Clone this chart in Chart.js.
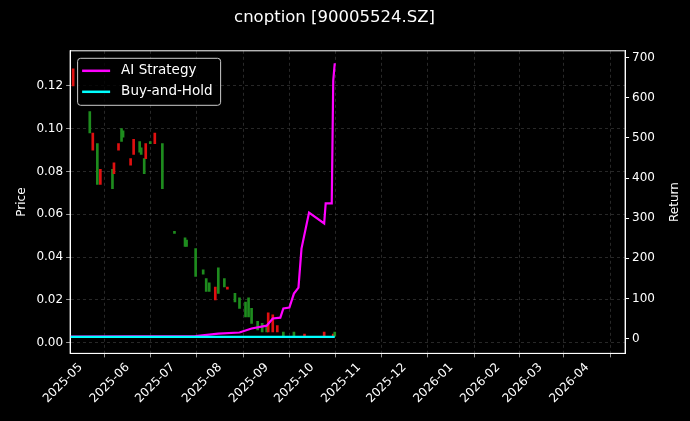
<!DOCTYPE html>
<html><head><meta charset="utf-8">
<script src="https://cdn.jsdelivr.net/npm/chart.js@4.4.1/dist/chart.umd.min.js"></script>
<style>html,body{margin:0;padding:0;background:#000;}#w{width:690px;height:421px;}</style>
</head><body><div id="w"><canvas id="c"></canvas></div>
<script>
const title = 'cnoption [90005524.SZ]';
const candleDates = ['2025-04-26','2025-05-07','2025-05-09','2025-05-12','2025-05-14','2025-05-22','2025-05-23','2025-05-26','2025-05-28','2025-05-29','2025-06-03','2025-06-05','2025-06-09','2025-06-10','2025-06-12','2025-06-13','2025-06-16','2025-06-19','2025-06-24','2025-07-02','2025-07-09','2025-07-10','2025-07-16','2025-07-21','2025-07-23','2025-07-25','2025-07-29','2025-07-31','2025-08-04','2025-08-06','2025-08-11','2025-08-14','2025-08-18','2025-08-20','2025-08-22','2025-08-26','2025-08-29','2025-09-01','2025-09-02','2025-09-05','2025-09-08','2025-09-12','2025-09-19','2025-09-26','2025-10-09','2025-10-15','2025-10-16'];
const candleLow  = [0.120,0.098,0.090,0.074,0.074,0.072,0.079,0.090,0.094,0.096,0.083,0.088,0.089,0.088,0.079,0.086,0.093,0.093,0.072,0.051,0.045,0.045,0.031,0.032,0.024,0.024,0.020,0.023,0.026,0.025,0.019,0.016,0.012,0.012,0.009,0.006,0.005,0.005,0.005,0.005,0.005,0.003,0.003,0.003,0.003,0.003,0.003];
const candleHigh = [0.128,0.108,0.098,0.093,0.081,0.081,0.084,0.093,0.100,0.099,0.086,0.095,0.094,0.091,0.086,0.093,0.094,0.098,0.093,0.052,0.049,0.048,0.044,0.034,0.030,0.028,0.026,0.035,0.030,0.026,0.023,0.021,0.019,0.021,0.016,0.010,0.009,0.008,0.014,0.013,0.008,0.005,0.005,0.004,0.005,0.004,0.005];
const candleUp   = [0,1,0,1,0,1,0,0,1,1,0,0,1,1,1,0,1,0,1,1,1,1,1,1,1,1,0,1,1,0,1,1,1,1,1,1,1,1,0,0,0,1,1,0,0,0,1];
const aiDates = ['2025-04-24','2025-07-16','2025-07-31','2025-08-14','2025-08-22','2025-09-01','2025-09-05','2025-09-10','2025-09-12','2025-09-16','2025-09-19','2025-09-22','2025-09-24','2025-09-29','2025-10-09','2025-10-10','2025-10-14','2025-10-15','2025-10-16'];
const aiValues = [5,6,12,15,25,32,50,52,75,77,112,127,224,314,287,337,337,643,686];
const bhDates = ['2025-04-24','2025-10-16'];
const bhValues = [4,4];
const priceTicks = [0,0.02,0.04,0.06,0.08,0.10,0.12];
const returnTicks = [0,100,200,300,400,500,600,700];
const monthTicks = ['2025-05','2025-06','2025-07','2025-08','2025-09','2025-10','2025-11','2025-12','2026-01','2026-02','2026-03','2026-04'];

const t = s => { const p = s.split('-').map(Number); return Date.UTC(p[0], p[1]-1, p[2]||1); };
const fmtMonth = v => { const d = new Date(v); return d.getUTCFullYear() + '-' + String(d.getUTCMonth()+1).padStart(2,'0'); };
const GREEN = '#1e8c1e', RED = '#e01010';
const font = {family:'DejaVu Sans', size:12};

const legendPlugin = {
  id:'inLegend',
  afterDraw(chart){
    const ctx = chart.ctx, a = chart.chartArea;
    const x = a.left + 7, y = a.top + 7, w = 143, h = 47;
    ctx.save();
    ctx.fillStyle = 'rgba(0,0,0,0.8)';
    ctx.strokeStyle = '#cccccc'; ctx.lineWidth = 1;
    ctx.beginPath(); ctx.roundRect(x+0.5, y+0.5, w, h, 3); ctx.fill(); ctx.stroke();
    const items = [[chart.data.datasets[1].label,'#ff00ff'],[chart.data.datasets[2].label,'#00ffff']];
    ctx.font = '13.5px DejaVu Sans'; ctx.textBaseline = 'middle';
    items.forEach((it,i)=>{
      const yy = y + 13 + i*21;
      ctx.strokeStyle = it[1]; ctx.lineWidth = 2.5;
      ctx.beginPath(); ctx.moveTo(x+5, yy); ctx.lineTo(x+33, yy); ctx.stroke();
      ctx.fillStyle = '#ffffff'; ctx.fillText(it[0], x+44, yy);
    });
    ctx.translate(a.right + 50, (a.top + a.bottom)/2);
    ctx.rotate(-Math.PI/2);
    ctx.font = '12px DejaVu Sans'; ctx.textAlign = 'center'; ctx.textBaseline = 'middle';
    ctx.fillStyle = '#ffffff'; ctx.fillText('Return', 0, 0);
    ctx.restore();
  }
};
const borderPlugin = {
  id:'frame',
  afterDatasetsDraw(chart){
    const ctx = chart.ctx, a = chart.chartArea;
    ctx.save(); ctx.strokeStyle = '#ffffff'; ctx.lineWidth = 1;
    ctx.strokeRect(a.left, a.top, a.right-a.left, a.bottom-a.top); ctx.restore();
  }
};

new Chart(document.getElementById('c'), {
  data: {
    datasets: [
      { type:'bar', label:'Price', yAxisID:'y', xAxisID:'x',
        data: candleDates.map((d,i)=>({x:t(d), y:[candleLow[i], candleHigh[i]]})),
        backgroundColor: candleUp.map(u=>u?GREEN:RED), barThickness:2, order:3 },
      { type:'line', label:'AI Strategy', yAxisID:'y1', xAxisID:'x',
        data: aiDates.map((d,i)=>({x:t(d), y:aiValues[i]})),
        borderColor:'#ff00ff', borderWidth:2.2, pointRadius:0, tension:0, order:1 },
      { type:'line', label:'Buy-and-Hold', yAxisID:'y1', xAxisID:'x',
        data: bhDates.map((d,i)=>({x:t(d), y:bhValues[i]})),
        borderColor:'#00ffff', borderWidth:2.2, pointRadius:0, tension:0, order:0 }
    ]
  },
  options: {
    responsive:true, maintainAspectRatio:false, animation:false,
    layout:{padding:{left:11, right:32, top:0, bottom:12}},
    plugins:{
      legend:{display:false}, tooltip:{enabled:false},
      title:{display:true, text:title, color:'#ffffff', font:{family:'DejaVu Sans', size:16.5, weight:'normal'}, padding:{top:8, bottom:23}}
    },
    scales:{
      x:{ type:'linear', min:t('2025-04-24'), max:t('2026-04-26'), offset:false,
        afterBuildTicks: ax => { ax.ticks = monthTicks.map(m=>({value:t(m)})); },
        ticks:{ color:'#ffffff', font, maxRotation:45, minRotation:45, autoSkip:false, callback: v=>fmtMonth(v) },
        grid:{ color:'rgba(150,150,150,0.45)', lineWidth:0.6, drawTicks:true, tickColor:'#ffffff', tickLength:4 },
        border:{ dash:[3,3], color:'#ffffff' } },
      y:{ position:'left', min:-0.005, max:0.1364,
        afterBuildTicks: ax => { ax.ticks = priceTicks.map(v=>({value:v})); },
        ticks:{ color:'#ffffff', font, callback: v=>v.toFixed(2) },
        title:{ display:true, text:'Price', color:'#ffffff', font },
        grid:{ color:'rgba(150,150,150,0.45)', lineWidth:0.6, tickColor:'#ffffff', tickLength:4 },
        border:{ dash:[3,3], color:'#ffffff' } },
      y1:{ position:'right', min:-37, max:717,
        afterBuildTicks: ax => { ax.ticks = returnTicks.map(v=>({value:v})); },
        ticks:{ color:'#ffffff', font, callback: v=>String(v) },
        grid:{ drawOnChartArea:false, tickColor:'#ffffff', tickLength:4 },
        border:{ color:'#ffffff' } }
    }
  },
  plugins:[legendPlugin, borderPlugin]
});
</script></body></html>
